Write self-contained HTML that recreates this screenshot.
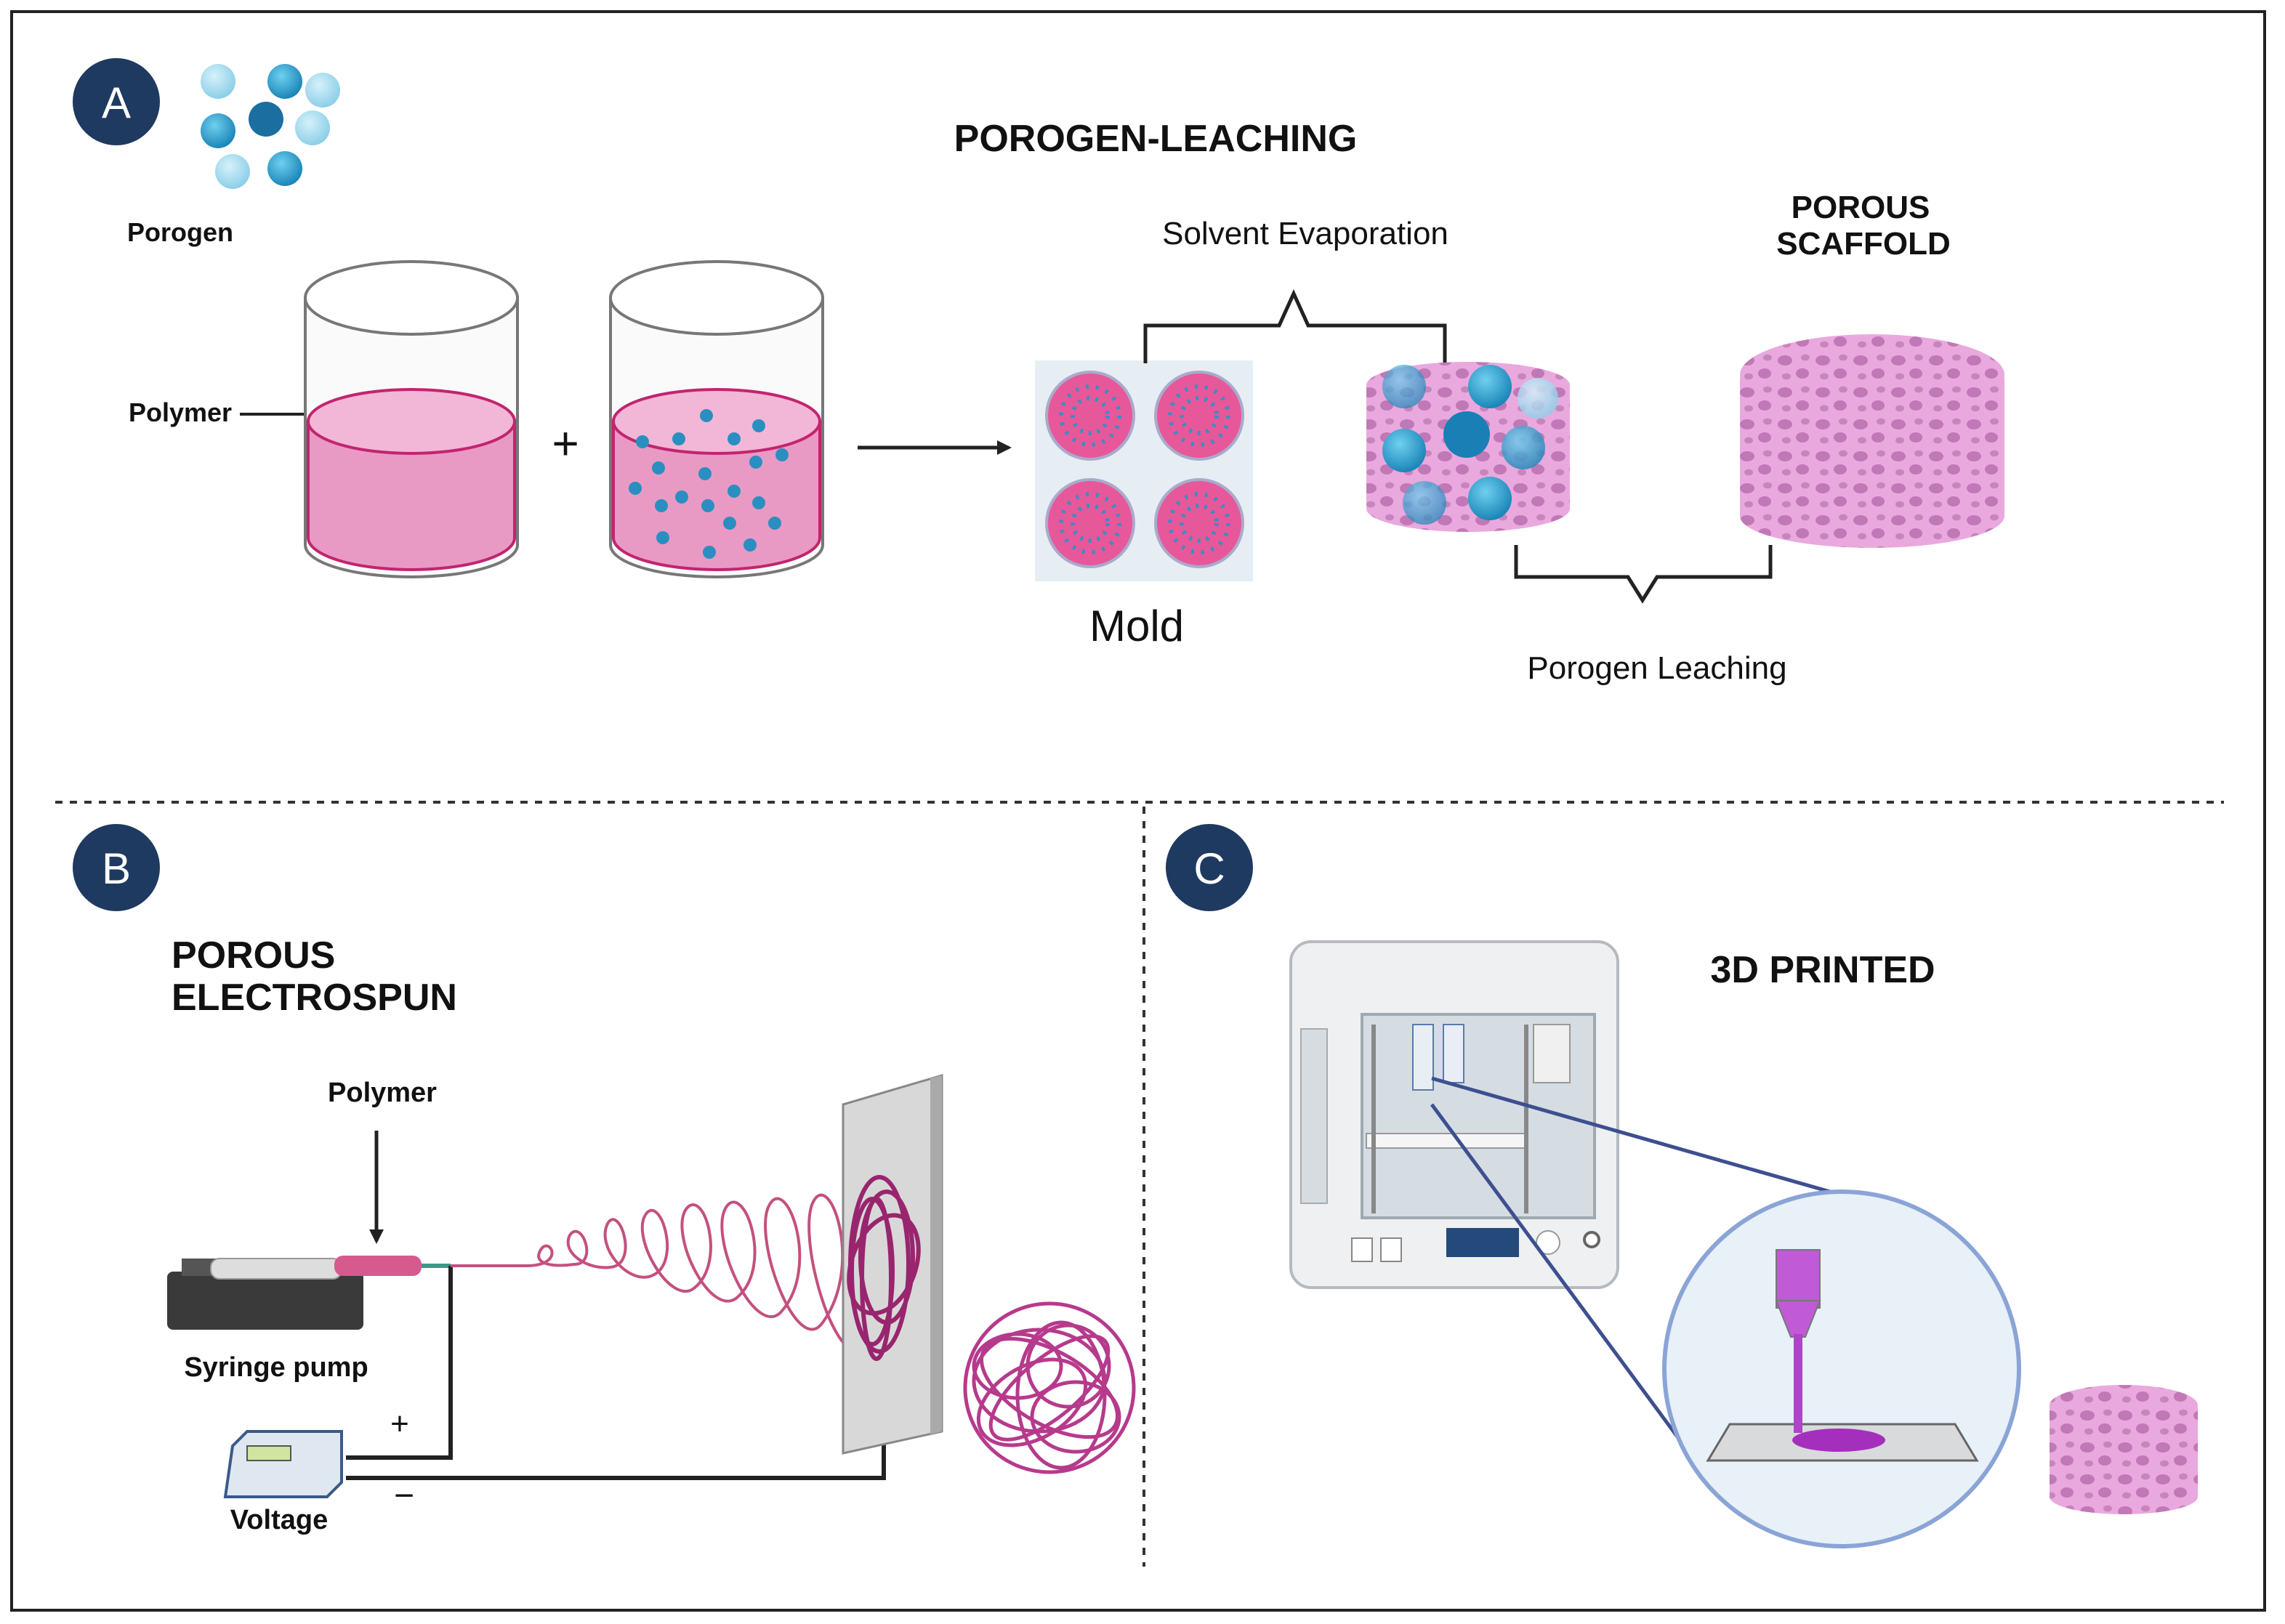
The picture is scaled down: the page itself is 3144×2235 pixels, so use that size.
<!DOCTYPE html>
<html><head><meta charset="utf-8"><style>
html,body{margin:0;padding:0;background:#fff}
svg{display:block}
text{font-family:"Liberation Sans",sans-serif}
</style></head><body>
<svg width="3144" height="2235" viewBox="0 0 1572 1117.5" xmlns="http://www.w3.org/2000/svg">
<defs>
<radialGradient id="bs" cx="40%" cy="35%" r="65%"><stop offset="0" stop-color="#6fd0f0"/><stop offset="1" stop-color="#1b86b8"/></radialGradient>
<radialGradient id="bl" cx="40%" cy="35%" r="65%"><stop offset="0" stop-color="#d6f1fb"/><stop offset="1" stop-color="#8ccfe8"/></radialGradient>
<pattern id="pores" width="26" height="22" patternUnits="userSpaceOnUse">
<rect width="26" height="22" fill="#e9a9de"/>
<ellipse cx="6" cy="6" rx="5" ry="3.5" fill="#c178b6"/>
<ellipse cx="18" cy="15" rx="4.5" ry="3.5" fill="#c178b6"/>
<ellipse cx="20" cy="4" rx="3" ry="2.2" fill="#c885bd"/>
<ellipse cx="7" cy="17" rx="3" ry="2.2" fill="#c885bd"/>
</pattern>
<marker id="ah" markerWidth="10" markerHeight="10" refX="8" refY="5" orient="auto" markerUnits="userSpaceOnUse"><path d="M0,0 L10,5 L0,10 Z" fill="#222"/></marker>
</defs>
<rect x="8" y="8" width="1550" height="1100" fill="#fff" stroke="#222" stroke-width="2"/>
<line x1="38" y1="552" x2="1530" y2="552" stroke="#333" stroke-width="2" stroke-dasharray="5,5"/>
<line x1="787" y1="555" x2="787" y2="1078" stroke="#333" stroke-width="2" stroke-dasharray="5,5"/>

<!-- A -->
<circle cx="80" cy="70" r="30" fill="#1f3a60"/><text x="80" y="81" font-size="30" fill="#fff" text-anchor="middle">A</text>
<circle cx="150" cy="56" r="12" fill="url(#bl)"/><circle cx="196" cy="56" r="12" fill="url(#bs)"/><circle cx="222" cy="62" r="12" fill="url(#bl)"/>
<circle cx="150" cy="90" r="12" fill="url(#bs)"/><circle cx="183" cy="82" r="12" fill="#1a6fa0"/><circle cx="215" cy="88" r="12" fill="url(#bl)"/>
<circle cx="160" cy="118" r="12" fill="url(#bl)"/><circle cx="196" cy="116" r="12" fill="url(#bs)"/>
<text x="124" y="166" font-size="18" font-weight="bold" text-anchor="middle" fill="#111">Porogen</text>
<text x="795" y="104" font-size="26" font-weight="bold" text-anchor="middle" fill="#111">POROGEN-LEACHING</text>
<text x="124" y="290" font-size="18" font-weight="bold" text-anchor="middle" fill="#111">Polymer</text>
<line x1="165" y1="285" x2="210" y2="285" stroke="#222" stroke-width="2"/>
<path d="M210,205 V375 A73,22 0 0 0 356,375 V205" fill="#fafafa" stroke="#777" stroke-width="2"/>
<path d="M212,290 V370 A71,22 0 0 0 354,370 V290 Z" fill="#e99ac4" stroke="#c2246f" stroke-width="2"/>
<ellipse cx="283" cy="290" rx="71" ry="22" fill="#f2b7d6" stroke="#c2246f" stroke-width="2"/>
<ellipse cx="283" cy="205" rx="73" ry="25" fill="#fff" stroke="#777" stroke-width="2"/>
<text x="389" y="316" font-size="32" text-anchor="middle" fill="#111">+</text>
<path d="M420,205 V375 A73,22 0 0 0 566,375 V205" fill="#fafafa" stroke="#777" stroke-width="2"/>
<path d="M422,290 V370 A71,22 0 0 0 564,370 V290 Z" fill="#e99ac4" stroke="#c2246f" stroke-width="2"/>
<ellipse cx="493" cy="290" rx="71" ry="22" fill="#f2b7d6" stroke="#c2246f" stroke-width="2"/>
<ellipse cx="493" cy="205" rx="73" ry="25" fill="#fff" stroke="#777" stroke-width="2"/>
<g fill="#2a8fc0">
<circle cx="486" cy="286" r="4.5"/><circle cx="467" cy="302" r="4.5"/><circle cx="505" cy="302" r="4.5"/><circle cx="522" cy="293" r="4.5"/><circle cx="442" cy="304" r="4.5"/>
<circle cx="453" cy="322" r="4.5"/><circle cx="485" cy="326" r="4.5"/><circle cx="520" cy="318" r="4.5"/><circle cx="538" cy="313" r="4.5"/><circle cx="437" cy="336" r="4.5"/>
<circle cx="469" cy="342" r="4.5"/><circle cx="505" cy="338" r="4.5"/><circle cx="522" cy="346" r="4.5"/><circle cx="455" cy="348" r="4.5"/><circle cx="487" cy="348" r="4.5"/>
<circle cx="502" cy="360" r="4.5"/><circle cx="533" cy="360" r="4.5"/><circle cx="456" cy="370" r="4.5"/><circle cx="488" cy="380" r="4.5"/><circle cx="516" cy="375" r="4.5"/>
</g>
<line x1="590" y1="308" x2="694" y2="308" stroke="#222" stroke-width="2.5" marker-end="url(#ah)"/>
<rect x="712" y="248" width="150" height="152" fill="#e6eef3"/>
<g stroke="#aac" stroke-width="2" fill="#e7589a">
<circle cx="750" cy="286" r="30"/><circle cx="825" cy="286" r="30"/><circle cx="750" cy="360" r="30"/><circle cx="825" cy="360" r="30"/>
</g>
<g fill="none" stroke="#3f8cc0" stroke-width="3">
<circle cx="750" cy="286" r="12" stroke-dasharray="2,4"/><circle cx="825" cy="286" r="12" stroke-dasharray="2,4"/>
<circle cx="750" cy="360" r="12" stroke-dasharray="2,4"/><circle cx="825" cy="360" r="12" stroke-dasharray="2,4"/>
<circle cx="750" cy="286" r="20" stroke-dasharray="2,5"/><circle cx="825" cy="286" r="20" stroke-dasharray="2,5"/>
<circle cx="750" cy="360" r="20" stroke-dasharray="2,5"/><circle cx="825" cy="360" r="20" stroke-dasharray="2,5"/>
</g>
<text x="782" y="441" font-size="30" text-anchor="middle" fill="#111">Mold</text>
<path d="M788,250 V224 H880 L890,202 L900,224 H994 V250" fill="none" stroke="#222" stroke-width="2.5"/>
<text x="898" y="168" font-size="22" text-anchor="middle" fill="#111">Solvent Evaporation</text>
<path d="M940,265 V350 A70,16 0 0 0 1080,350 V265 Z" fill="url(#pores)"/>
<ellipse cx="1010" cy="265" rx="70" ry="16" fill="url(#pores)"/>
<circle cx="966" cy="266" r="15" fill="url(#bs)" opacity=".7"/><circle cx="1025" cy="266" r="15" fill="url(#bs)"/><circle cx="1058" cy="274" r="14" fill="url(#bl)" opacity=".8"/>
<circle cx="966" cy="310" r="15" fill="url(#bs)"/><circle cx="1009" cy="299" r="16" fill="#1a7fb5"/><circle cx="1048" cy="308" r="15" fill="url(#bs)" opacity=".8"/>
<circle cx="980" cy="346" r="15" fill="url(#bs)" opacity=".7"/><circle cx="1025" cy="343" r="15" fill="url(#bs)"/>
<path d="M1197,260 V355 A91,22 0 0 0 1379,355 V260 Z" fill="url(#pores)"/>
<ellipse cx="1288" cy="258" rx="91" ry="28" fill="url(#pores)"/>
<text x="1280" y="150" font-size="22" font-weight="bold" text-anchor="middle" fill="#111">POROUS</text>
<text x="1282" y="175" font-size="22" font-weight="bold" text-anchor="middle" fill="#111">SCAFFOLD</text>
<path d="M1043,375 V397 H1120 L1130,413 L1140,397 H1218 V375" fill="none" stroke="#222" stroke-width="2.5"/>
<text x="1140" y="467" font-size="22" text-anchor="middle" fill="#111">Porogen Leaching</text>

<!-- B -->
<circle cx="80" cy="597" r="30" fill="#1f3a60"/><text x="80" y="608" font-size="30" fill="#fff" text-anchor="middle">B</text>
<text x="118" y="666" font-size="26" font-weight="bold" fill="#111">POROUS</text>
<text x="118" y="695" font-size="26" font-weight="bold" fill="#111">ELECTROSPUN</text>
<text x="263" y="758" font-size="19" font-weight="bold" text-anchor="middle" fill="#111">Polymer</text>
<line x1="259" y1="778" x2="259" y2="854" stroke="#222" stroke-width="2.5" marker-end="url(#ah)"/>
<rect x="115" y="875" width="135" height="40" rx="4" fill="#3a3a3a"/>
<rect x="125" y="866" width="40" height="12" fill="#555"/>
<rect x="145" y="866" width="90" height="14" rx="6" fill="#ddd" stroke="#999"/>
<rect x="230" y="864" width="60" height="14" rx="6" fill="#d65a8e"/>
<line x1="290" y1="871" x2="310" y2="871" stroke="#3a9a8a" stroke-width="3"/>
<text x="190" y="947" font-size="19" font-weight="bold" text-anchor="middle" fill="#111">Syringe pump</text>
<path d="M310,871 V1003 H238 M238,1017 H608 V980" fill="none" stroke="#222" stroke-width="3"/>
<text x="275" y="987" font-size="22" text-anchor="middle" fill="#111">+</text>
<text x="278" y="1037" font-size="24" text-anchor="middle" fill="#111">−</text>
<path d="M160,995 L170,985 H235 V1020 L225,1030 H155 Z" fill="#dfe8f0" stroke="#3a5a8a" stroke-width="2"/>
<rect x="170" y="995" width="30" height="10" fill="#cfe5a0" stroke="#555"/>
<text x="192" y="1052" font-size="19" font-weight="bold" text-anchor="middle" fill="#111">Voltage</text>
<path d="M310,871 H362 C390,871 378,850 372,860 C366,870 380,872 395,870 C412,870 400,838 392,850 C386,862 404,874 420,872 C440,870 426,828 418,842 C410,858 432,884 448,878 C470,870 454,820 444,836 C434,852 462,900 478,886 C500,868 484,816 472,832 C460,850 490,910 508,892 C532,870 512,814 500,830 C486,850 520,924 538,902 C564,872 542,810 530,828 C516,848 548,936 566,910 C594,872 572,806 560,826 C548,846 570,930 590,930" fill="none" stroke="#c4507f" stroke-width="2"/>
<path d="M580,760 L648,740 V985 L580,1000 Z" fill="#d8d8d8" stroke="#888" stroke-width="1.5"/>
<path d="M648,740 L640,742 V987 L648,985 Z" fill="#aaa"/>
<g fill="none" stroke="#98256e" stroke-width="3">
<ellipse cx="605" cy="870" rx="20" ry="60"/><ellipse cx="600" cy="875" rx="14" ry="50"/><ellipse cx="610" cy="865" rx="18" ry="45"/><ellipse cx="603" cy="880" rx="10" ry="55"/><ellipse cx="608" cy="870" rx="22" ry="35" transform="rotate(20 608 870)"/>
</g>
<g fill="none" stroke="#b63a8c" stroke-width="2.5">
<circle cx="722" cy="955" r="58"/><ellipse cx="715" cy="950" rx="45" ry="35"/><ellipse cx="730" cy="960" rx="30" ry="50"/><ellipse cx="722" cy="955" rx="52" ry="25" transform="rotate(30 722 955)"/><ellipse cx="722" cy="955" rx="50" ry="20" transform="rotate(-40 722 955)"/><ellipse cx="710" cy="965" rx="25" ry="40" transform="rotate(60 710 965)"/><circle cx="735" cy="940" r="28"/><ellipse cx="700" cy="940" rx="30" ry="22"/><ellipse cx="740" cy="975" rx="30" ry="24"/>
</g>

<!-- C -->
<circle cx="832" cy="597" r="30" fill="#1f3a60"/><text x="832" y="608" font-size="30" fill="#fff" text-anchor="middle">C</text>
<text x="1254" y="676" font-size="26" font-weight="bold" text-anchor="middle" fill="#111">3D PRINTED</text>
<rect x="888" y="648" width="225" height="238" rx="14" fill="#eef0f2" stroke="#b5bac0" stroke-width="2"/>
<rect x="937" y="698" width="160" height="140" fill="#d5dde3" stroke="#a0a8b0" stroke-width="2"/>
<rect x="895" y="708" width="18" height="120" fill="#d5dde3" stroke="#aaa"/>
<rect x="940" y="780" width="110" height="10" fill="#f5f5f5" stroke="#999"/>
<line x1="945" y1="705" x2="945" y2="835" stroke="#888" stroke-width="3"/><line x1="1050" y1="705" x2="1050" y2="835" stroke="#888" stroke-width="3"/>
<rect x="1055" y="705" width="25" height="40" fill="#f0f0f0" stroke="#999"/>
<rect x="972" y="705" width="14" height="45" fill="#e8eef4" stroke="#5a7ab0"/>
<rect x="993" y="705" width="14" height="40" fill="#e8eef4" stroke="#5a7ab0"/>
<rect x="995" y="845" width="50" height="20" fill="#234a7a"/>
<circle cx="1065" cy="855" r="8" fill="#fff" stroke="#999"/><circle cx="1095" cy="853" r="5" fill="#fff" stroke="#666" stroke-width="2"/>
<rect x="930" y="852" width="14" height="16" fill="#fff" stroke="#888"/><rect x="950" y="852" width="14" height="16" fill="#fff" stroke="#888"/>
<line x1="985" y1="742" x2="1280" y2="826" stroke="#3d4f8f" stroke-width="2.5"/>
<line x1="985" y1="760" x2="1155" y2="990" stroke="#3d4f8f" stroke-width="2.5"/>
<circle cx="1267" cy="942" r="122" fill="#e8f0f8" stroke="#8aa4d6" stroke-width="3"/>
<path d="M1175,1005 L1190,980 H1345 L1360,1005 Z" fill="#d8dadc" stroke="#666" stroke-width="1.5"/>
<ellipse cx="1265" cy="991" rx="32" ry="8" fill="#a52fbd"/>
<rect x="1222" y="860" width="30" height="40" fill="#c05ad6" stroke="#777"/>
<path d="M1222,895 L1232,920 H1242 L1252,895 Z" fill="#c05ad6" stroke="#777"/>
<rect x="1234" y="918" width="6" height="68" fill="#b043c9"/>
<path d="M1410,968 V1030 A51,12 0 0 0 1512,1030 V968 Z" fill="url(#pores)"/>
<ellipse cx="1461" cy="967" rx="51" ry="14" fill="url(#pores)"/>
</svg>
</body></html>
